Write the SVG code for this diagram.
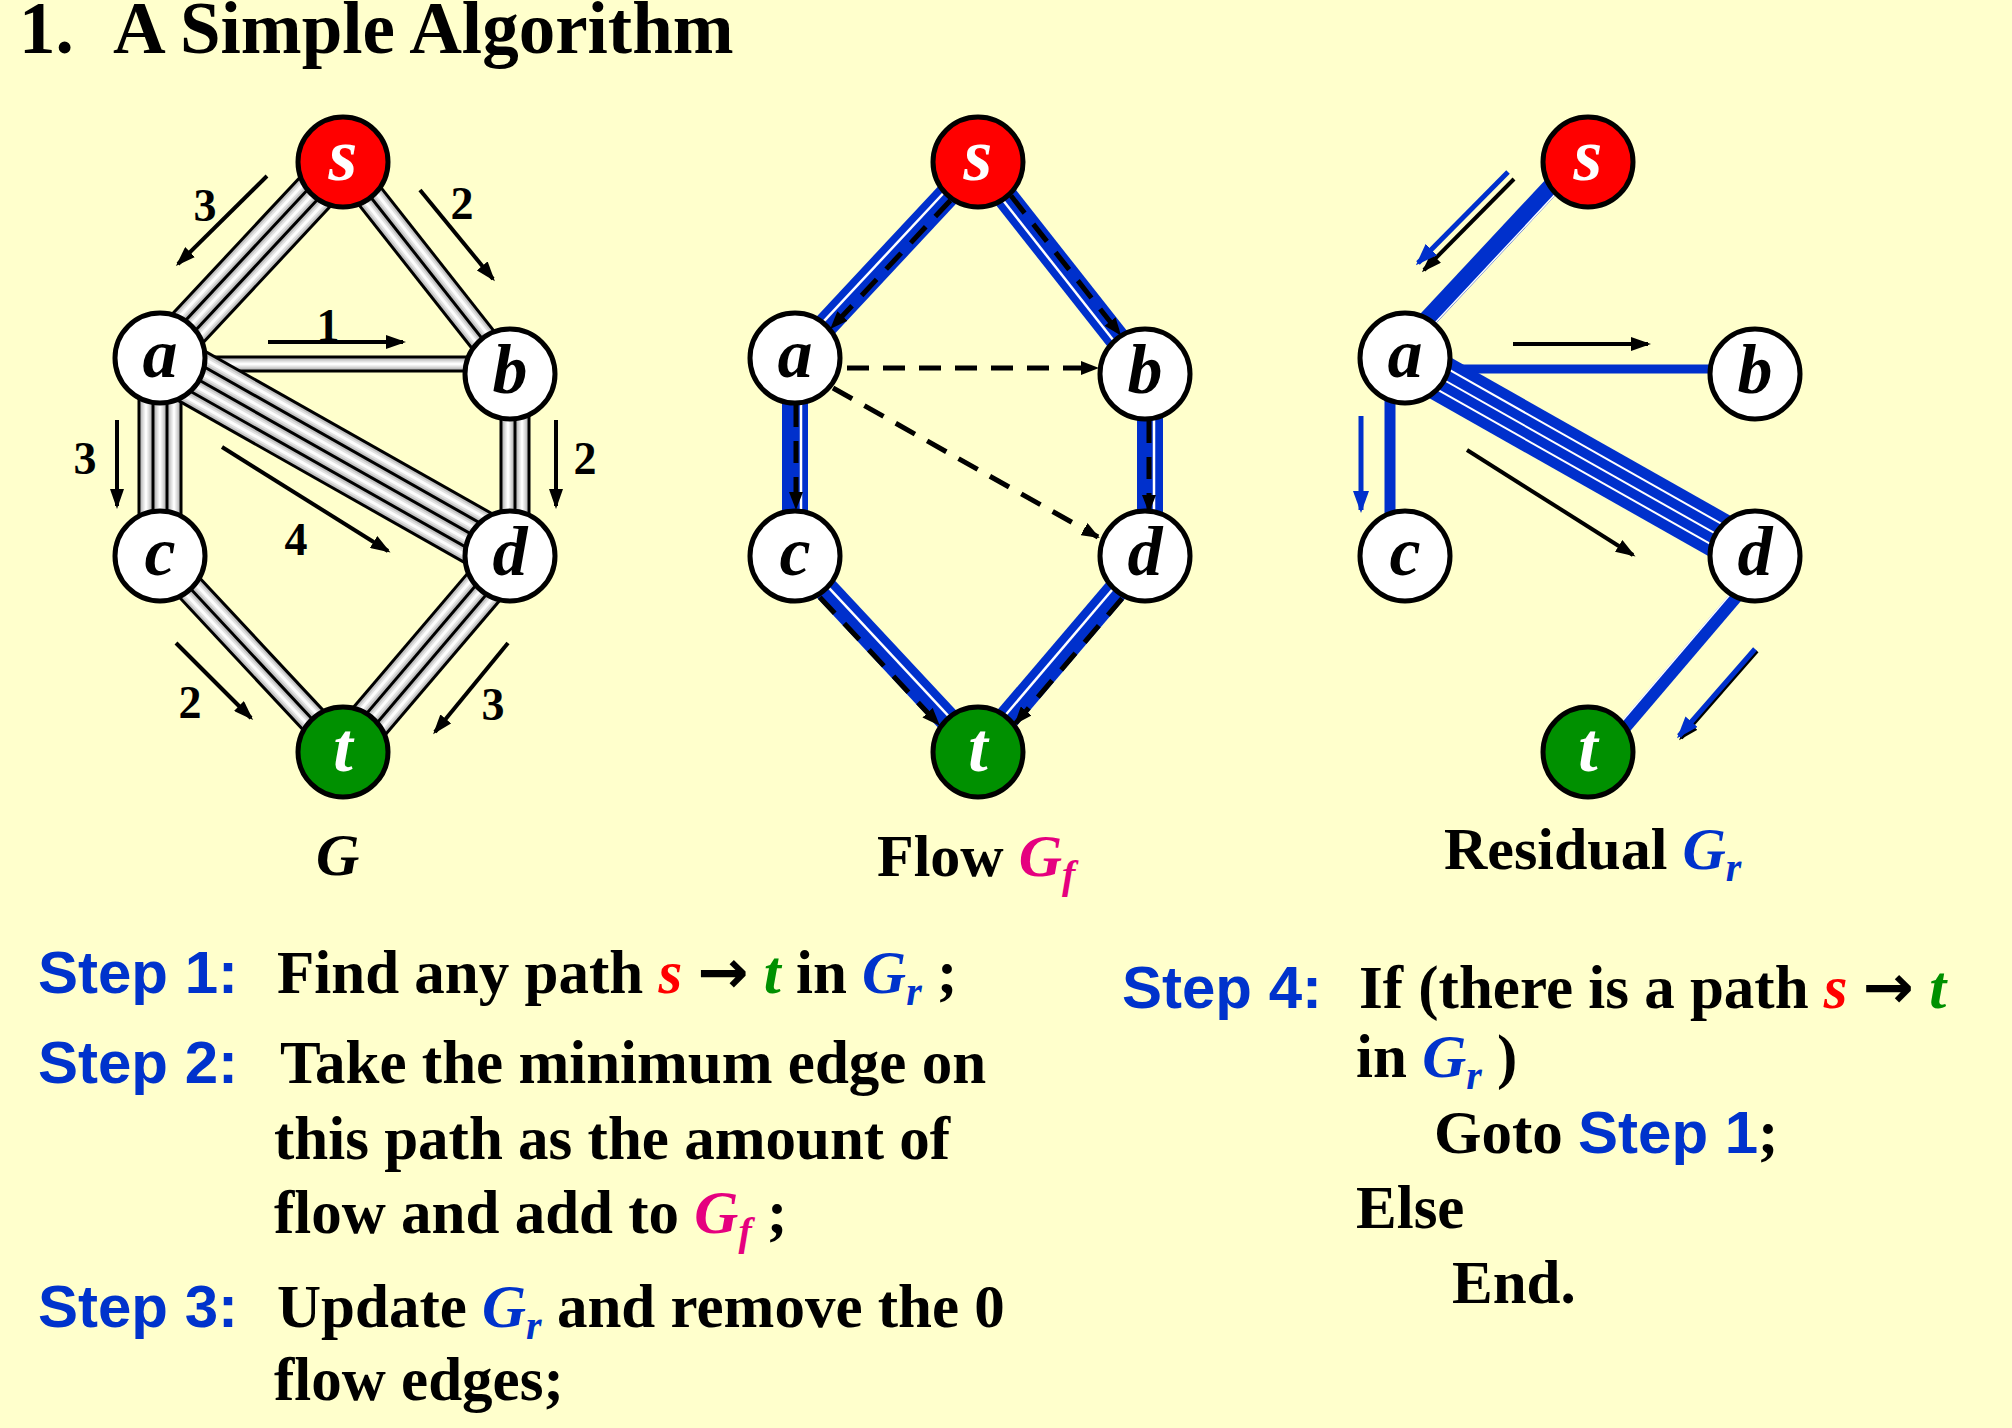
<svg xmlns="http://www.w3.org/2000/svg" width="2012" height="1428" viewBox="0 0 2012 1428">
<defs>
<style>
.bg{fill:#FFFFCC}
.nd{stroke:#000;stroke-width:5;fill:#fff}
.ns{fill:#FF0000}
.nt{fill:#009000}
.nl{font-family:"Liberation Serif","Times New Roman",serif;font-weight:bold;font-style:italic;font-size:70px;text-anchor:middle;fill:#000}
.nlw{fill:#fff}
.tb{stroke:#000;fill:none}
.t1{stroke:#c4c4c4;stroke-width:11;fill:none}
.t2{stroke:#e2e2e2;stroke-width:7;fill:none}
.t3{stroke:#fdfdfd;stroke-width:3;fill:none}
.blu{stroke:#0030CC;fill:none}
.wl{stroke:#fff;fill:none}
.dsh{stroke:#000;stroke-width:5;stroke-dasharray:22 14;fill:none}
.ar{stroke:#000;stroke-width:4;fill:none}
.arb{stroke:#0030CC;stroke-width:5;fill:none}
.lbl{font-family:"Liberation Serif","Times New Roman",serif;font-weight:bold;font-size:46px;text-anchor:middle;fill:#000}
.tx{font-family:"Liberation Serif","Times New Roman",serif;font-weight:bold;font-size:61px;fill:#000}
.st{font-family:"Liberation Sans",Arial,sans-serif;font-weight:bold;fill:#0033CC}
.arr{font-family:"DejaVu Sans",sans-serif;font-weight:bold;font-style:normal}
.it{font-style:italic}
.red{fill:#FF0000}
.grn{fill:#009000}
.bl{fill:#0033CC}
.mg{fill:#E5007F}
</style>
<marker id="ah" viewBox="0 0 20 14" refX="17" refY="7" markerWidth="20" markerHeight="14" markerUnits="userSpaceOnUse" orient="auto"><path d="M0,0 L20,7 L0,14 z" fill="#000"/></marker>
<marker id="ahb" viewBox="0 0 22 16" refX="19" refY="8" markerWidth="22" markerHeight="16" markerUnits="userSpaceOnUse" orient="auto"><path d="M0,0 L22,8 L0,16 z" fill="#0030CC"/></marker>
<marker id="ahd" viewBox="0 0 18 14" refX="16" refY="7" markerWidth="18" markerHeight="14" markerUnits="userSpaceOnUse" orient="auto"><path d="M0,0 L18,7 L0,14 z" fill="#000"/></marker>
</defs>
<rect class="bg" x="0" y="0" width="2012" height="1428"/>

<!-- Title -->
<text class="tx" x="19" y="53" style="font-size:73px">1.</text>
<text class="tx" x="113" y="53" style="font-size:73px">A Simple Algorithm</text>

<!-- ===== Graph G connectors ===== -->
<g id="g-connectors">
  <g transform="translate(343,162) rotate(133.03)">
    <line class="tb" x1="0" y1="0" x2="268" y2="0" stroke-width="45"/>
    <line class="t1" x1="0" y1="-14" x2="268" y2="-14"/><line class="t2" x1="0" y1="-14" x2="268" y2="-14"/><line class="t3" x1="0" y1="-14" x2="268" y2="-14"/>
    <line class="t1" x1="0" y1="0" x2="268" y2="0"/><line class="t2" x1="0" y1="0" x2="268" y2="0"/><line class="t3" x1="0" y1="0" x2="268" y2="0"/>
    <line class="t1" x1="0" y1="14" x2="268" y2="14"/><line class="t2" x1="0" y1="14" x2="268" y2="14"/><line class="t3" x1="0" y1="14" x2="268" y2="14"/>
  </g>
  <g transform="translate(343,162) rotate(51.77)">
    <line class="tb" x1="0" y1="0" x2="270" y2="0" stroke-width="31"/>
    <line class="t1" x1="0" y1="-7" x2="270" y2="-7"/><line class="t2" x1="0" y1="-7" x2="270" y2="-7"/><line class="t3" x1="0" y1="-7" x2="270" y2="-7"/>
    <line class="t1" x1="0" y1="7" x2="270" y2="7"/><line class="t2" x1="0" y1="7" x2="270" y2="7"/><line class="t3" x1="0" y1="7" x2="270" y2="7"/>
  </g>
  <g transform="translate(160,364)">
    <line class="tb" x1="0" y1="0" x2="350" y2="0" stroke-width="17"/>
    <line class="t1" x1="0" y1="0" x2="350" y2="0"/><line class="t2" x1="0" y1="0" x2="350" y2="0"/><line class="t3" x1="0" y1="0" x2="350" y2="0"/>
  </g>
  <g transform="translate(160,358) rotate(90)">
    <line class="tb" x1="0" y1="0" x2="198" y2="0" stroke-width="45"/>
    <line class="t1" x1="0" y1="-14" x2="198" y2="-14"/><line class="t2" x1="0" y1="-14" x2="198" y2="-14"/><line class="t3" x1="0" y1="-14" x2="198" y2="-14"/>
    <line class="t1" x1="0" y1="0" x2="198" y2="0"/><line class="t2" x1="0" y1="0" x2="198" y2="0"/><line class="t3" x1="0" y1="0" x2="198" y2="0"/>
    <line class="t1" x1="0" y1="14" x2="198" y2="14"/><line class="t2" x1="0" y1="14" x2="198" y2="14"/><line class="t3" x1="0" y1="14" x2="198" y2="14"/>
  </g>
  <g transform="translate(515,374) rotate(90)">
    <line class="tb" x1="0" y1="0" x2="182" y2="0" stroke-width="31"/>
    <line class="t1" x1="0" y1="-7" x2="182" y2="-7"/><line class="t2" x1="0" y1="-7" x2="182" y2="-7"/><line class="t3" x1="0" y1="-7" x2="182" y2="-7"/>
    <line class="t1" x1="0" y1="7" x2="182" y2="7"/><line class="t2" x1="0" y1="7" x2="182" y2="7"/><line class="t3" x1="0" y1="7" x2="182" y2="7"/>
  </g>
  <g transform="translate(160,358) rotate(29.5)">
    <line class="tb" x1="0" y1="0" x2="402" y2="0" stroke-width="59"/>
    <line class="t1" x1="0" y1="-21" x2="402" y2="-21"/><line class="t2" x1="0" y1="-21" x2="402" y2="-21"/><line class="t3" x1="0" y1="-21" x2="402" y2="-21"/>
    <line class="t1" x1="0" y1="-7" x2="402" y2="-7"/><line class="t2" x1="0" y1="-7" x2="402" y2="-7"/><line class="t3" x1="0" y1="-7" x2="402" y2="-7"/>
    <line class="t1" x1="0" y1="7" x2="402" y2="7"/><line class="t2" x1="0" y1="7" x2="402" y2="7"/><line class="t3" x1="0" y1="7" x2="402" y2="7"/>
    <line class="t1" x1="0" y1="21" x2="402" y2="21"/><line class="t2" x1="0" y1="21" x2="402" y2="21"/><line class="t3" x1="0" y1="21" x2="402" y2="21"/>
  </g>
  <g transform="translate(160,556) rotate(46.97)">
    <line class="tb" x1="0" y1="0" x2="268" y2="0" stroke-width="31"/>
    <line class="t1" x1="0" y1="-7" x2="268" y2="-7"/><line class="t2" x1="0" y1="-7" x2="268" y2="-7"/><line class="t3" x1="0" y1="-7" x2="268" y2="-7"/>
    <line class="t1" x1="0" y1="7" x2="268" y2="7"/><line class="t2" x1="0" y1="7" x2="268" y2="7"/><line class="t3" x1="0" y1="7" x2="268" y2="7"/>
  </g>
  <g transform="translate(510,556) rotate(130.43)">
    <line class="tb" x1="0" y1="0" x2="258" y2="0" stroke-width="45"/>
    <line class="t1" x1="0" y1="-14" x2="258" y2="-14"/><line class="t2" x1="0" y1="-14" x2="258" y2="-14"/><line class="t3" x1="0" y1="-14" x2="258" y2="-14"/>
    <line class="t1" x1="0" y1="0" x2="258" y2="0"/><line class="t2" x1="0" y1="0" x2="258" y2="0"/><line class="t3" x1="0" y1="0" x2="258" y2="0"/>
    <line class="t1" x1="0" y1="14" x2="258" y2="14"/><line class="t2" x1="0" y1="14" x2="258" y2="14"/><line class="t3" x1="0" y1="14" x2="258" y2="14"/>
  </g>
  <line class="ar" x1="267" y1="176" x2="178" y2="264" marker-end="url(#ah)"/>
  <line class="ar" x1="420" y1="190" x2="493" y2="279" marker-end="url(#ah)"/>
  <line class="ar" x1="268" y1="342" x2="403" y2="342" marker-end="url(#ah)"/>
  <line class="ar" x1="117" y1="420" x2="117" y2="506" marker-end="url(#ah)"/>
  <line class="ar" x1="556" y1="420" x2="556" y2="506" marker-end="url(#ah)"/>
  <line class="ar" x1="222" y1="447" x2="388" y2="551" marker-end="url(#ah)"/>
  <line class="ar" x1="176" y1="643" x2="251" y2="718" marker-end="url(#ah)"/>
  <line class="ar" x1="508" y1="643" x2="435" y2="732" marker-end="url(#ah)"/>
  <text class="lbl" x="205" y="221">3</text>
  <text class="lbl" x="462" y="219">2</text>
  <text class="lbl" x="328" y="341">1</text>
  <text class="lbl" x="85" y="474">3</text>
  <text class="lbl" x="585" y="474">2</text>
  <text class="lbl" x="296" y="555">4</text>
  <text class="lbl" x="190" y="718">2</text>
  <text class="lbl" x="493" y="720">3</text>
</g>

<!-- ===== Graph G nodes ===== -->
<g id="G-s"><circle class="nd ns" cx="343" cy="162" r="45"/><text class="nl nlw" x="343" y="180" style="font-size:74px">s</text></g>
<g id="G-a"><circle class="nd" cx="160" cy="358" r="45"/><text class="nl" x="160" y="377">a</text></g>
<g id="G-b"><circle class="nd" cx="510" cy="374" r="45"/><text class="nl" x="510" y="393">b</text></g>
<g id="G-c"><circle class="nd" cx="160" cy="556" r="45"/><text class="nl" x="160" y="575">c</text></g>
<g id="G-d"><circle class="nd" cx="510" cy="556" r="45"/><text class="nl" x="510" y="575">d</text></g>
<g id="G-t"><circle class="nd nt" cx="343" cy="752" r="45"/><text class="nl nlw" x="343" y="771">t</text></g>

<!-- ===== Flow Gf connectors ===== -->
<g id="flow-connectors">
  <g transform="translate(978,162) rotate(133.03)">
    <line class="blu" x1="0" y1="0" x2="268" y2="0" stroke-width="25"/>
    <line class="wl" x1="0" y1="4" x2="268" y2="4" stroke-width="2.5"/>
    <line class="dsh" x1="47" y1="-6" x2="221" y2="-6" marker-end="url(#ahd)"/>
  </g>
  <g transform="translate(978,162) rotate(51.77)">
    <line class="blu" x1="0" y1="0" x2="270" y2="0" stroke-width="25"/>
    <line class="wl" x1="0" y1="4" x2="270" y2="4" stroke-width="2.5"/>
    <line class="dsh" x1="47" y1="-5" x2="223" y2="-5" marker-end="url(#ahd)"/>
  </g>
  <g transform="translate(795,358) rotate(90)">
    <line class="blu" x1="0" y1="0" x2="198" y2="0" stroke-width="26"/>
    <line class="wl" x1="0" y1="-6" x2="198" y2="-6" stroke-width="2.5"/>
    <line class="dsh" x1="47" y1="-1" x2="150" y2="-1" marker-end="url(#ahd)"/>
  </g>
  <g transform="translate(1150,374) rotate(90)">
    <line class="blu" x1="0" y1="0" x2="182" y2="0" stroke-width="26"/>
    <line class="wl" x1="0" y1="-4" x2="182" y2="-4" stroke-width="2.5"/>
    <line class="dsh" x1="47" y1="1" x2="137" y2="1" marker-end="url(#ahd)"/>
  </g>
  <g transform="translate(795,556) rotate(46.97)">
    <line class="blu" x1="0" y1="0" x2="268" y2="0" stroke-width="25"/>
    <line class="wl" x1="0" y1="-3" x2="268" y2="-3" stroke-width="2.5"/>
    <line class="dsh" x1="47" y1="10" x2="221" y2="10" marker-end="url(#ahd)"/>
  </g>
  <g transform="translate(1145,556) rotate(130.43)">
    <line class="blu" x1="0" y1="0" x2="258" y2="0" stroke-width="25"/>
    <line class="wl" x1="0" y1="3" x2="258" y2="3" stroke-width="2.5"/>
    <line class="dsh" x1="47" y1="-10" x2="211" y2="-10" marker-end="url(#ahd)"/>
  </g>
  <line class="dsh" x1="847" y1="368" x2="1097" y2="368" marker-end="url(#ahd)"/>
  <line class="dsh" x1="833" y1="388" x2="1098" y2="537" marker-end="url(#ahd)"/>
</g>

<!-- ===== Flow nodes ===== -->
<g id="F-s"><circle class="nd ns" cx="978" cy="162" r="45"/><text class="nl nlw" x="978" y="180" style="font-size:74px">s</text></g>
<g id="F-a"><circle class="nd" cx="795" cy="358" r="45"/><text class="nl" x="795" y="377">a</text></g>
<g id="F-b"><circle class="nd" cx="1145" cy="374" r="45"/><text class="nl" x="1145" y="393">b</text></g>
<g id="F-c"><circle class="nd" cx="795" cy="556" r="45"/><text class="nl" x="795" y="575">c</text></g>
<g id="F-d"><circle class="nd" cx="1145" cy="556" r="45"/><text class="nl" x="1145" y="575">d</text></g>
<g id="F-t"><circle class="nd nt" cx="978" cy="752" r="45"/><text class="nl nlw" x="978" y="771">t</text></g>

<!-- ===== Residual Gr connectors ===== -->
<g id="residual-connectors">
  <g transform="translate(1588,162) rotate(133.03)">
    <line class="blu" x1="0" y1="10" x2="268" y2="10" stroke-width="18"/>
    <line class="wl" x1="40" y1="2" x2="268" y2="2" stroke-width="1.5"/>
  </g>
  <line class="blu" x1="1405" y1="369" x2="1755" y2="369" stroke-width="9"/>
  <line class="blu" x1="1390" y1="358" x2="1390" y2="556" stroke-width="11"/>
  <g transform="translate(1405,358) rotate(29.5)">
    <line class="blu" x1="0" y1="0" x2="402" y2="0" stroke-width="46"/>
    <line class="wl" x1="0" y1="-11.5" x2="402" y2="-11.5" stroke-width="2"/>
    <line class="wl" x1="0" y1="0" x2="402" y2="0" stroke-width="2"/>
    <line class="wl" x1="0" y1="11.5" x2="402" y2="11.5" stroke-width="2"/>
  </g>
  <g transform="translate(1755,556) rotate(130.43)">
    <line class="blu" x1="0" y1="-12" x2="258" y2="-12" stroke-width="13"/>
    <line class="wl" x1="0" y1="-6" x2="258" y2="-6" stroke-width="1.5"/>
  </g>
  <line class="ar" x1="1514" y1="179" x2="1424" y2="270" marker-end="url(#ah)"/>
  <line class="arb" x1="1508" y1="172" x2="1418" y2="263" marker-end="url(#ahb)"/>
  <line class="ar" x1="1513" y1="344" x2="1648" y2="344" marker-end="url(#ah)"/>
  <line class="arb" x1="1361" y1="416" x2="1361" y2="510" marker-end="url(#ahb)"/>
  <line class="ar" x1="1467" y1="450" x2="1633" y2="555" marker-end="url(#ah)"/>
  <line class="ar" x1="1757" y1="651" x2="1681" y2="738" marker-end="url(#ah)"/>
  <line class="arb" x1="1755" y1="649" x2="1679" y2="736" marker-end="url(#ahb)"/>
</g>

<!-- ===== Residual nodes ===== -->
<g id="R-s"><circle class="nd ns" cx="1588" cy="162" r="45"/><text class="nl nlw" x="1588" y="180" style="font-size:74px">s</text></g>
<g id="R-a"><circle class="nd" cx="1405" cy="358" r="45"/><text class="nl" x="1405" y="377">a</text></g>
<g id="R-b"><circle class="nd" cx="1755" cy="374" r="45"/><text class="nl" x="1755" y="393">b</text></g>
<g id="R-c"><circle class="nd" cx="1405" cy="556" r="45"/><text class="nl" x="1405" y="575">c</text></g>
<g id="R-d"><circle class="nd" cx="1755" cy="556" r="45"/><text class="nl" x="1755" y="575">d</text></g>
<g id="R-t"><circle class="nd nt" cx="1588" cy="752" r="45"/><text class="nl nlw" x="1588" y="771">t</text></g>

<!-- ===== Captions ===== -->
<text class="tx it" x="316" y="875" style="font-size:60px">G</text>
<text class="tx" x="877" y="876" style="font-size:60px">Flow <tspan class="it mg">G</tspan><tspan class="it mg" style="font-size:40px" dy="12">f</tspan></text>
<text class="tx" x="1444" y="869" style="font-size:60px">Residual <tspan class="it bl">G</tspan><tspan class="it bl" style="font-size:40px" dy="12">r</tspan></text>

<!-- ===== Steps ===== -->
<text class="st" x="38" y="993" style="font-size:60px">Step 1:</text>
<text class="tx" x="277" y="993">Find any path <tspan class="it red">s</tspan> <tspan class="arr">→</tspan> <tspan class="it grn">t</tspan> in <tspan class="it bl">G</tspan><tspan class="it bl" style="font-size:40px" dy="12">r</tspan><tspan dy="-12"> ;</tspan></text>

<text class="st" x="38" y="1083" style="font-size:60px">Step 2:</text>
<text class="tx" x="280" y="1083">Take the minimum edge on</text>
<text class="tx" x="274" y="1159">this path as the amount of</text>
<text class="tx" x="274" y="1233">flow and add to <tspan class="it mg">G</tspan><tspan class="it mg" style="font-size:40px" dy="12">f</tspan><tspan dy="-12"> ;</tspan></text>

<text class="st" x="38" y="1327" style="font-size:60px">Step 3:</text>
<text class="tx" x="277" y="1327">Update <tspan class="it bl">G</tspan><tspan class="it bl" style="font-size:40px" dy="12">r</tspan><tspan dy="-12"> and remove the 0</tspan></text>
<text class="tx" x="274" y="1400">flow edges;</text>

<text class="st" x="1122" y="1008" style="font-size:60px">Step 4:</text>
<text class="tx" x="1359" y="1008">If (there is a path <tspan class="it red">s</tspan> <tspan class="arr">→</tspan> <tspan class="it grn">t</tspan></text>
<text class="tx" x="1356" y="1077">in <tspan class="it bl">G</tspan><tspan class="it bl" style="font-size:40px" dy="12">r</tspan><tspan dy="-12"> )</tspan></text>
<text class="tx" x="1434" y="1153">Goto <tspan class="st" style="font-size:60px">Step 1</tspan>;</text>
<text class="tx" x="1356" y="1228">Else</text>
<text class="tx" x="1452" y="1303">End.</text>
</svg>
